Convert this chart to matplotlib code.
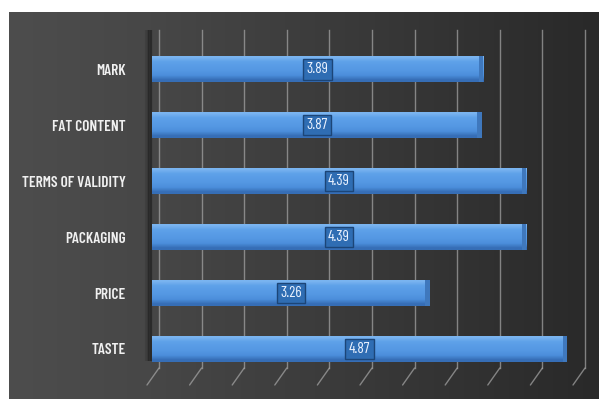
import matplotlib
matplotlib.use("Agg")
import matplotlib.pyplot as plt
import matplotlib.transforms as mtransforms
from matplotlib import font_manager
import numpy as np

categories = ["TASTE", "PRICE", "PACKAGING", "TERMS OF VALIDITY", "FAT CONTENT", "MARK"]
values = [4.87, 3.26, 4.39, 4.39, 3.87, 3.89]
grid_ticks = [0, 0.5, 1, 1.5, 2, 2.5, 3, 3.5, 4, 4.5, 5]

names = {f.name for f in font_manager.fontManager.ttflist}
if 'Barlow Condensed' in names:
    FONT = ['Barlow Condensed', 'DejaVu Sans']
else:
    FONT = ['Liberation Sans', 'DejaVu Sans']

W, H = 599, 399
fig = plt.figure(figsize=(W / 100, H / 100), dpi=100, facecolor='white')

def fx(px):
    return px / W

def fy(py):
    return 1 - py / H

# background panel with gradient
bg = fig.add_axes([fx(9), 0, fx(590), 1 - 12 / H])
bg.set_axis_off()
xs = np.linspace(0, 1, 300)
c_left = np.array([0x4d, 0x4d, 0x4d]) / 255
c_mid = np.array([0x47, 0x47, 0x47]) / 255
c_right = np.array([0x29, 0x29, 0x29]) / 255
grad = np.zeros((2, 300, 3))
for i, t in enumerate(xs):
    if t < 0.24:
        c = c_left + (c_mid - c_left) * (t / 0.24)
    else:
        c = c_mid + (c_right - c_mid) * ((t - 0.24) / 0.76)
    grad[:, i, :] = c
bg.imshow(grad, aspect='auto', extent=[0, 1, 0, 1])
bg.set_xlim(0, 1)
bg.set_ylim(0, 1)

# main axes
x0_px, ppu = 152, 85.2
top_px, bot_px = 30, 368
ax = fig.add_axes([fx(x0_px), fy(bot_px), fx(595 - x0_px), (bot_px - top_px) / H])
ax.patch.set_alpha(0)
for s in ax.spines.values():
    s.set_visible(False)

# gridlines (back wall + slanted floor)
off = mtransforms.ScaledTranslation(7 / 100, 0, fig.dpi_scale_trans)
floor = mtransforms.ScaledTranslation(-12 / 100, -17 / 100, fig.dpi_scale_trans)
blend = mtransforms.blended_transform_factory(ax.transData, ax.transAxes)
for g in grid_ticks:
    ax.plot([g, g], [0, 1], transform=blend + off, color='#a8a8a8', lw=1.0,
            alpha=0.7, clip_on=False, zorder=1)
    ax.annotate('', xy=(g, 0), xycoords=blend + off + floor,
                xytext=(g, 0), textcoords=blend + off,
                arrowprops=dict(arrowstyle='-', color='#a8a8a8', lw=1.0, alpha=0.7,
                                shrinkA=0, shrinkB=0),
                annotation_clip=False)

# soft shadow along the left wall
for k, a in enumerate([0.10, 0.18, 0.28, 0.38]):
    tr = blend + mtransforms.ScaledTranslation((-6 + k * 1.5) / 100, 0, fig.dpi_scale_trans)
    ax.plot([0, 0], [0.02, 1.0], transform=tr, color='black', lw=1.6,
            alpha=a, clip_on=False, solid_capstyle='butt', zorder=1)

# bars
ypos = np.arange(len(categories))
bar_h = 0.47
bars = ax.barh(ypos, values, height=bar_h, color='#4a8bd6', edgecolor='none', zorder=3)
cmap_grad = np.array([[0x36, 0x6e, 0xb6], [0x4c, 0x8e, 0xdb], [0x54, 0x97, 0xe2],
                      [0x59, 0x9c, 0xe6], [0x5e, 0xa1, 0xe9], [0x7a, 0xb4, 0xf0]]) / 255
for b in bars:
    x, y, w, h = b.get_x(), b.get_y(), b.get_width(), b.get_height()
    img = np.repeat(cmap_grad[:, None, :], 2, axis=1)
    im = ax.imshow(img, extent=[x, x + w, y, y + h], aspect='auto',
                   origin='lower', zorder=4, interpolation='bilinear')
    im.set_clip_path(b)
    ax.barh(y + h / 2, 0.05, left=x + w - 0.05, height=h, color='#3f78bd',
            edgecolor='none', zorder=5)
ax.set_aspect('auto')
ax.set_xlim(0, (595 - x0_px) / ppu)
ax.set_ylim(-0.34, 5.70)

# value labels
for yv, v in zip(ypos, values):
    ax.text(v / 2, yv, f"{v:.2f}", ha='center', va='center', color='#eaf2ff',
            fontsize=11, family=FONT, zorder=6,
            bbox=dict(boxstyle='square,pad=0.22', facecolor='#2f6db3',
                      edgecolor='#1c4577', lw=1.0))

ax.set_xticks([])
ax.set_yticks(ypos)
ax.set_yticklabels(categories, family=FONT, fontweight='semibold', fontsize=11,
                   color='#f0f0f0')
ax.tick_params(axis='y', length=0, pad=19)

fig.savefig('out.png', dpi=100, facecolor='white')
